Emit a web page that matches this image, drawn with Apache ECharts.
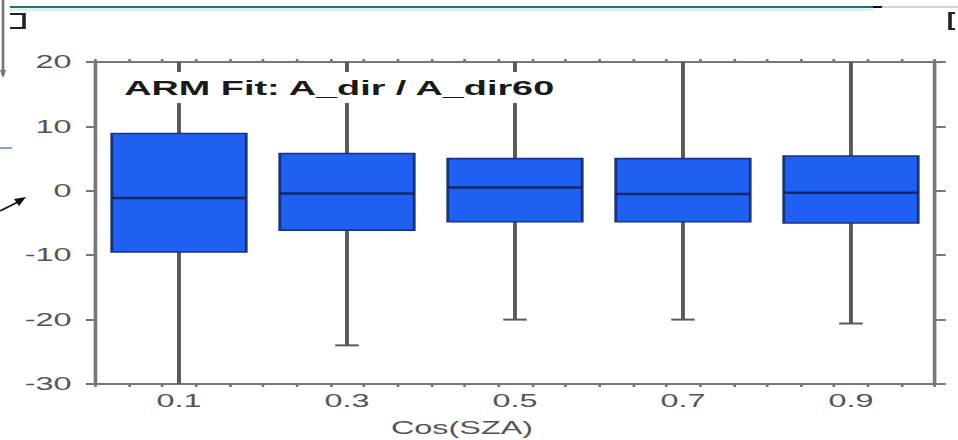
<!DOCTYPE html>
<html><head><meta charset="utf-8">
<script src="https://cdn.jsdelivr.net/npm/echarts@6/dist/echarts.min.js"></script>
<style>
html,body{margin:0;padding:0;background:#fff;overflow:hidden;width:958px;height:440px}
#wrap{width:532px;height:440px;transform:scaleX(1.800752);transform-origin:0 0;}
</style></head><body><div id="wrap"></div>
<script>
// ---- data ----
const categories   = [0.1, 0.3, 0.5, 0.7, 0.9];
const whiskerLow   = [-35, -24, -20, -20, -20.6];
const quartile1    = [-9.5, -6.1, -4.8, -4.8, -5.0];
const medians      = [-1.1, -0.4, 0.5, -0.5, -0.3];
const quartile3    = [8.9, 5.8, 5.0, 5.0, 5.4];
const whiskerHigh  = [26, 26, 26, 26, 26];
const xTickLabels  = [0.1, 0.3, 0.5, 0.7, 0.9];
const xMinorTicks  = [0, 0.04, 0.08, 0.12, 0.16, 0.2, 0.24, 0.28, 0.32, 0.36, 0.4, 0.44, 0.48, 0.52, 0.56, 0.6, 0.64, 0.68, 0.72, 0.76, 0.8, 0.84, 0.88, 0.92, 0.96, 1];
const titleText    = 'ARM Fit: A_dir / A_dir60';
const xAxisName    = 'Cos(SZA)';

const K = 958 / 532;              // horizontal stretch of the reference picture
const rx = v => v / K;            // reference x -> chart x (decorations only)
const BOX_HALF = 0.08, CAP_HALF = 0.014;
const FONT = "'Liberation Sans', Arial, sans-serif";

const boxData = categories.map((c, i) => [c, whiskerLow[i], quartile1[i], medians[i], quartile3[i], whiskerHigh[i]]);

const chart = echarts.init(document.getElementById('wrap'), null, {renderer: 'svg', width: 532, height: 440});

const axisLine = {show: true, onZero: false, lineStyle: {color: '#777', width: 2}};
chart.setOption({
  animation: false,
  backgroundColor: '#fff',
  textStyle: {fontFamily: FONT},
  title: {
    text: titleText, left: 63, top: 72, padding: [5, 6, 5, 6], backgroundColor: '#ffffff', zlevel: 3, z: 100,
    textStyle: {fontFamily: FONT, fontSize: 21, fontWeight: 'bold', color: '#1a1a1a'}
  },
  grid: {left: 52.75, right: 12.8, top: 62, bottom: 56},
  xAxis: [{
    type: 'value', min: 0, max: 1, position: 'bottom',
    axisLine: axisLine,
    axisTick: {show: true, customValues: xMinorTicks, length: 3, lineStyle: {color: '#777', width: 1.5}},
    axisLabel: {customValues: xTickLabels, fontSize: 18, color: '#555', margin: 8, fontFamily: FONT},
    splitLine: {show: false}
  }, {
    type: 'value', min: 0, max: 1, position: 'top',
    axisLine: axisLine,
    axisTick: {show: true, customValues: xMinorTicks, length: 3, lineStyle: {color: '#777', width: 1.5}},
    axisLabel: {show: false}, splitLine: {show: false}
  }],
  yAxis: [{
    type: 'value', min: -30, max: 20, interval: 10, position: 'left',
    axisLine: axisLine,
    axisTick: {show: true, length: 5, lineStyle: {color: '#777', width: 2}},
    axisLabel: {fontSize: 18, color: '#555', margin: 13, fontFamily: FONT},
    splitLine: {show: false}
  }, {
    type: 'value', min: -30, max: 20, interval: 10, position: 'right',
    axisLine: axisLine,
    axisTick: {show: true, length: 6, lineStyle: {color: '#777', width: 2}},
    axisLabel: {show: false}, splitLine: {show: false}
  }],
  series: [{
    type: 'custom',
    clip: true,
    z: 1,
    xAxisIndex: 0, yAxisIndex: 0,
    encode: {x: 0, y: [1, 2, 3, 4, 5]},
    data: boxData,
    renderItem: function (params, api) {
      const x = api.value(0);
      const lo = api.coord([x, api.value(1)]);
      const b1 = api.coord([x, api.value(2)]);
      const md = api.coord([x, api.value(3)]);
      const b3 = api.coord([x, api.value(4)]);
      const hi = api.coord([x, api.value(5)]);
      const half = (api.coord([x + BOX_HALF, 0])[0] - api.coord([x - BOX_HALF, 0])[0]) / 2;
      const cap = (api.coord([x + CAP_HALF, 0])[0] - api.coord([x - CAP_HALF, 0])[0]) / 2;
      return {
        type: 'group',
        children: [
          {type: 'line', z2: 1, shape: {x1: lo[0], y1: lo[1], x2: hi[0], y2: hi[1]}, style: {stroke: '#5a5a5a', lineWidth: 2.2}},
          {type: 'line', z2: 1, shape: {x1: lo[0] - cap, y1: lo[1], x2: lo[0] + cap, y2: lo[1]}, style: {stroke: '#5a5a5a', lineWidth: 2}},
          {type: 'line', z2: 1, shape: {x1: hi[0] - cap, y1: hi[1], x2: hi[0] + cap, y2: hi[1]}, style: {stroke: '#5a5a5a', lineWidth: 2}},
          {type: 'rect', z2: 2, shape: {x: b3[0] - half, y: b3[1], width: 2 * half, height: b1[1] - b3[1]},
            style: {fill: '#1f60f2', stroke: '#17347c', lineWidth: 1.6}},
          {type: 'line', z2: 3, shape: {x1: md[0] - half, y1: md[1], x2: md[0] + half, y2: md[1]}, style: {stroke: '#0f2966', lineWidth: 2.5}}
        ]
      };
    }
  }],
  graphic: [
    // white box behind the in-plot title (hides the whiskers there)
    {type: 'rect', zlevel: 2, z: 90, shape: {x: 63, y: 72, width: 254, height: 31}, style: {fill: '#ffffff'}},
    {type: 'text', x: rx(462), y: 428, style: {text: xAxisName, font: '18px ' + FONT, fill: '#555', textAlign: 'center', textVerticalAlign: 'middle'}},
    // slide artefacts around the chart
    {type: 'line', shape: {x1: rx(10), y1: 7, x2: rx(873), y2: 7}, style: {stroke: '#2d6b6d', lineWidth: 2}},
    {type: 'line', shape: {x1: rx(10), y1: 9.5, x2: rx(873), y2: 9.5}, style: {stroke: '#c4f0f2', lineWidth: 2}},
    {type: 'line', shape: {x1: rx(873), y1: 7, x2: rx(882), y2: 7}, style: {stroke: '#111', lineWidth: 2}},
    {type: 'line', shape: {x1: rx(882), y1: 7, x2: 532, y2: 7}, style: {stroke: '#aaa', lineWidth: 1}},
    {type: 'polyline', shape: {points: [[rx(10), 14], [rx(24), 14], [rx(24), 28], [rx(10), 28]]}, style: {stroke: '#222', lineWidth: 2, fill: null}},
    {type: 'polyline', shape: {points: [[rx(955), 13], [rx(950), 13], [rx(950), 29], [rx(955), 29]]}, style: {stroke: '#222', lineWidth: 2, fill: null}},
    {type: 'line', shape: {x1: rx(3), y1: 0, x2: rx(3), y2: 76}, style: {stroke: '#777', lineWidth: 1.5}},
    {type: 'polygon', shape: {points: [[rx(0), 70], [rx(6), 70], [rx(3), 78]]}, style: {fill: '#777'}},
    {type: 'line', shape: {x1: 0, y1: 148, x2: rx(12), y2: 148}, style: {stroke: '#5b7fd6', lineWidth: 1.5}},
    {type: 'line', shape: {x1: 0, y1: 211, x2: rx(20), y2: 201}, style: {stroke: '#111', lineWidth: 1.5}},
    {type: 'polygon', shape: {points: [[rx(26), 197], [rx(14), 199], [rx(19), 206]]}, style: {fill: '#111'}}
  ]
});
</script></body></html>
